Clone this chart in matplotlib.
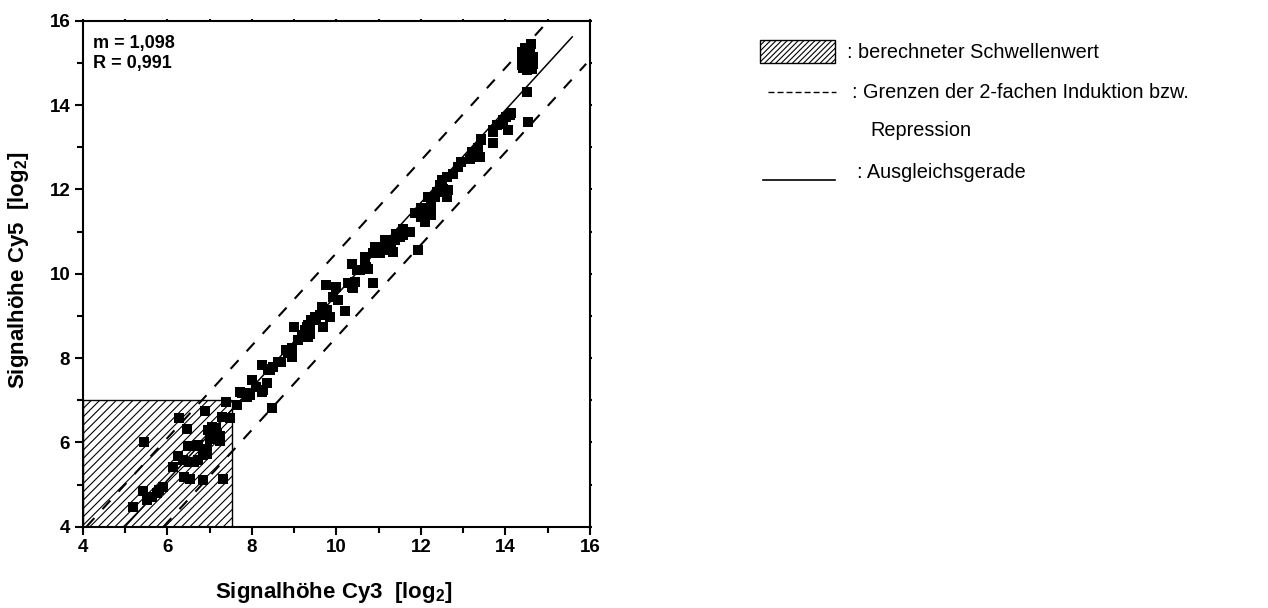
import numpy as np
import matplotlib
matplotlib.use("Agg")
import matplotlib.pyplot as plt
from matplotlib.patches import Rectangle
from matplotlib.lines import Line2D
from matplotlib.ticker import MultipleLocator

plt.rcParams["font.family"] = ["Liberation Sans", "DejaVu Sans"]
plt.rcParams["mathtext.fontset"] = "custom"
plt.rcParams["mathtext.rm"] = "Liberation Sans"
plt.rcParams["mathtext.bf"] = "Liberation Sans:bold"
plt.rcParams["hatch.linewidth"] = 0.8

# spot signals, log2 (Cy3 channel vs Cy5 channel)
cy3 = [
    5.20, 5.43, 5.53, 5.63, 5.75, 5.89, 5.80, 5.46,
    6.13, 6.26, 6.38, 6.28, 6.46, 6.40, 6.54, 6.52, 6.63, 6.73, 6.50, 6.61,
    6.73, 6.85, 6.89, 6.93, 6.85, 6.97, 7.07, 7.17, 7.26, 7.01, 7.31, 7.29,
    7.48, 7.39, 7.64, 7.76, 7.88, 7.05, 7.15, 6.95, 7.25,
    7.72, 7.84, 7.96, 8.00, 8.11, 8.23, 8.35, 8.25, 8.39, 8.51, 8.62, 8.48,
    8.27, 8.43,
    8.86, 8.94, 8.82, 8.94, 8.70, 9.10, 9.18, 9.26, 9.33, 9.41, 9.49, 9.00,
    9.37, 9.33, 9.69, 9.61, 9.65, 9.85, 9.77, 9.92, 10.04, 10.20, 9.75, 10.00,
    9.30, 9.37, 9.53, 9.45,
    10.28, 10.40, 10.44, 10.36, 10.56, 10.71, 10.67, 10.86, 10.87, 10.95,
    10.48, 10.75, 10.36,
    10.67, 10.91, 11.03, 11.15, 11.30, 11.42, 11.58, 11.74, 11.50, 11.34,
    11.93, 11.11, 11.19, 11.38, 11.58,
    11.86, 12.01, 12.09, 12.25, 12.17, 12.37, 12.53, 12.65, 12.61, 12.49,
    12.61, 12.09, 12.01, 12.13, 12.25, 12.33, 12.45,
    12.76, 12.88, 12.96, 13.16, 13.20, 13.39, 13.35, 13.20, 13.31,
    13.43, 13.71, 13.71, 13.79, 13.94, 14.02, 14.14, 14.06, 13.43, 13.94,
    14.10, 13.71,
    14.50, 14.53, 14.61,
    14.38, 14.40, 14.47, 14.58, 14.65, 14.66, 14.62, 14.52, 14.42, 14.38,
    14.60, 14.45,
]
cy5 = [
    4.47, 4.85, 4.63, 4.70, 4.79, 4.95, 4.88, 6.00,
    5.41, 5.68, 5.58, 6.58, 6.31, 5.17, 5.12, 5.54, 5.54, 5.58, 5.91, 5.91,
    5.94, 5.11, 6.75, 5.72, 5.70, 6.29, 6.37, 6.21, 6.04, 6.09, 5.12, 6.61,
    6.57, 6.96, 6.88, 7.18, 7.08, 6.20, 6.35, 5.85, 6.15,
    7.20, 7.16, 7.12, 7.48, 7.32, 7.20, 7.40, 7.83, 7.75, 7.79, 7.91, 6.81,
    7.24, 7.71,
    8.11, 8.23, 8.19, 8.03, 7.91, 8.42, 8.54, 8.66, 8.78, 8.90, 8.98, 8.74,
    8.58, 8.50, 8.73, 9.02, 9.21, 8.98, 9.14, 9.45, 9.37, 9.12, 9.74, 9.69,
    8.74, 8.70, 8.98, 8.90,
    9.77, 9.65, 9.81, 10.24, 10.08, 10.16, 10.32, 9.77, 10.48, 10.63,
    10.08, 10.12, 9.69,
    10.40, 10.63, 10.48, 10.79, 10.71, 10.95, 11.07, 10.99, 10.87, 10.52,
    10.56, 10.56, 10.79, 10.79, 10.91,
    11.43, 11.55, 11.39, 11.58, 11.82, 11.94, 12.02, 11.98, 11.82, 12.22,
    12.29, 11.23, 11.35, 11.55, 11.39, 11.82, 12.10,
    12.37, 12.53, 12.65, 12.73, 12.89, 12.77, 12.97, 12.85, 12.77,
    13.16, 13.09, 13.36, 13.52, 13.56, 13.72, 13.80, 13.40, 13.20, 13.64,
    13.76, 13.40,
    14.31, 13.60, 15.45,
    15.05, 15.25, 15.36, 15.32, 15.15, 14.98, 14.86, 14.82, 14.88, 14.95,
    15.05, 15.15,
]

# regression line y = m*x + b, and the 2-fold band (+/- 1 in log2)
slope = 1.098
intercept = -1.49
fit_x = [5.0, 15.58]
upper_x = [4.09, 15.08]
lower_x = [5.91, 15.91]

# threshold box (computed background threshold)
thr_x = 7.54
thr_y = 7.0

fig = plt.figure(figsize=(12.68, 6.08), dpi=100)
ax = fig.add_axes([0.0652, 0.1337, 0.4001, 0.8322])

ax.add_patch(Rectangle((4, 4), thr_x - 4, thr_y - 4, facecolor="white",
                       edgecolor="black", hatch="////", lw=1.0, zorder=1))

fx = np.array(fit_x)
ax.plot(fx, slope * fx + intercept, color="black", lw=1.1, zorder=3)
ux = np.array(upper_x)
ax.plot(ux, slope * ux + intercept + 1, color="black", lw=1.5,
        ls=(0, (5.6, 5.8)), zorder=3)
lx = np.array(lower_x)
ax.plot(lx, slope * lx + intercept - 1, color="black", lw=1.5,
        ls=(0, (5.6, 5.8)), zorder=3)

ax.plot(cy3, cy5, ls="none", marker="s", ms=6.8, color="black",
        markeredgewidth=0, zorder=4)

ax.set_xlim(4, 16)
ax.set_ylim(4, 16)
ax.xaxis.set_major_locator(MultipleLocator(2))
ax.yaxis.set_major_locator(MultipleLocator(2))
ax.xaxis.set_minor_locator(MultipleLocator(1))
ax.yaxis.set_minor_locator(MultipleLocator(1))
for s in ax.spines.values():
    s.set_linewidth(1.5)
ax.tick_params(which="major", direction="out", length=6, width=1.5,
               labelsize=13.5, pad=3, top=True, right=True)
ax.tick_params(which="minor", direction="out", length=4, width=1.5,
               top=True, right=True)
for t in ax.get_xticklabels() + ax.get_yticklabels():
    t.set_fontweight("bold")
# opposite axes carry short ticks only
for tk in ax.xaxis.get_major_ticks() + ax.xaxis.get_minor_ticks():
    tk.tick2line.set_markersize(1.5)
for tk in ax.yaxis.get_major_ticks() + ax.yaxis.get_minor_ticks():
    tk.tick2line.set_markersize(1.5)

ax.text(0.02, 0.972, "m = 1,098\nR = 0,991", transform=ax.transAxes,
        ha="left", va="top", fontsize=13, fontweight="bold", linespacing=1.25)

fig.text(0.263, 0.026, r"Signalhöhe Cy3  [log$_\mathbf{2}$]", ha="center",
         va="center", fontsize=16, fontweight="bold")
fig.text(0.0145, 0.555, r"Signalhöhe Cy5  [log$_\mathbf{2}$]", ha="center",
         va="center", rotation=90, fontsize=16, fontweight="bold")

# legend, drawn by hand in figure pixels
W, H = 1268.0, 608.0
fig.patches.append(Rectangle((760 / W, 1 - 63 / H), 75 / W, 23 / H,
                             transform=fig.transFigure, facecolor="white",
                             edgecolor="black", hatch="//////", lw=1.0))
fig.text(847 / W, 1 - 52 / H, ": berechneter Schwellenwert", ha="left",
         va="center", fontsize=14.3)
fig.lines.append(Line2D([768 / W, 836 / W], [1 - 92 / H, 1 - 92 / H],
                        transform=fig.transFigure, color="black", lw=1.0,
                        ls=(0, (4.3, 2.2))))
fig.text(852 / W, 1 - 92 / H, ": Grenzen der 2-fachen Induktion bzw.",
         ha="left", va="center", fontsize=14.3)
fig.text(870 / W, 1 - 131 / H, "Repression", ha="left", va="center",
         fontsize=14.3)
fig.lines.append(Line2D([763 / W, 835 / W], [1 - 180 / H, 1 - 180 / H],
                        transform=fig.transFigure, color="black", lw=1.2))
fig.text(857 / W, 1 - 172 / H, ": Ausgleichsgerade", ha="left", va="center",
         fontsize=14.3)

fig.savefig("out.png", dpi=100)
